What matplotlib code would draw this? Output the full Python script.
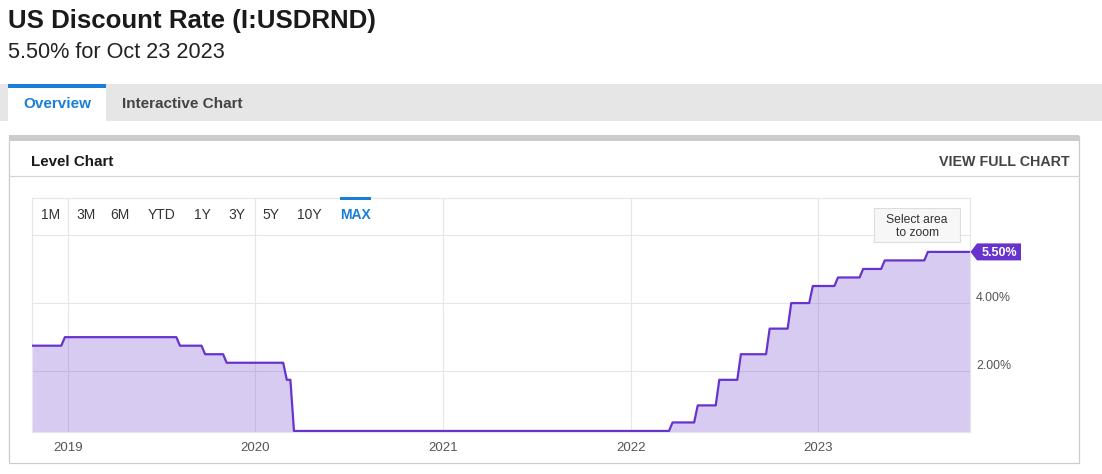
import matplotlib
matplotlib.use("Agg")
import matplotlib.pyplot as plt
from matplotlib.patches import Rectangle, Polygon
import pandas as pd

plt.rcParams["font.family"] = ["Liberation Sans", "DejaVu Sans"]

# weekly-ish observations around each rate change (%)
rate_dates = [
    "2018-10-23", "2018-12-19", "2018-12-26", "2019-07-31", "2019-08-07",
    "2019-09-18", "2019-09-25", "2019-10-30", "2019-11-06", "2020-02-24",
    "2020-03-02", "2020-03-09", "2020-03-16", "2022-03-16", "2022-03-23",
    "2022-05-04", "2022-05-11", "2022-06-15", "2022-06-22", "2022-07-27",
    "2022-08-03", "2022-09-21", "2022-09-28", "2022-11-02", "2022-11-09",
    "2022-12-14", "2022-12-21", "2023-02-01", "2023-02-08", "2023-03-22",
    "2023-03-29", "2023-05-03", "2023-05-10", "2023-07-26", "2023-08-02",
    "2023-10-23",
]
rate_values = [
    2.75, 2.75, 3.00, 3.00, 2.75,
    2.75, 2.50, 2.50, 2.25, 2.25,
    1.75, 1.75, 0.25, 0.25, 0.50,
    0.50, 1.00, 1.00, 1.75, 1.75,
    2.50, 2.50, 3.25, 3.25, 4.00,
    4.00, 4.50, 4.50, 4.75, 4.75,
    5.00, 5.00, 5.25, 5.25, 5.50,
    5.50,
]
year_ticks = ["2019-01-01", "2020-01-01", "2021-01-01", "2022-01-01", "2023-01-01"]
year_labels = ["2019", "2020", "2021", "2022", "2023"]
y_ticks = [2.0, 4.0, 6.0]
y_labels = ["2.00%", "4.00%", ""]
range_buttons = ["1M", "3M", "6M", "YTD", "1Y", "3Y", "5Y", "10Y", "MAX"]
range_x = [40.5, 76.5, 110, 148, 194, 228, 262, 297.5, 340.5]

W, H = 1102, 474
LINE = "#6633cc"
GRID = "#e6e6e6"
Y0, Y1 = 0.22, 7.08

fig = plt.figure(figsize=(W / 100, H / 100), dpi=100)

# page background layer in pixel coordinates
bg = fig.add_axes([0, 0, 1, 1], zorder=0)
bg.set_xlim(0, W)
bg.set_ylim(H, 0)
bg.axis("off")

bg.text(8, 27.5, "US Discount Rate (I:USDRND)", fontsize=18.6, fontweight="bold",
        color="#1a1a1a", va="baseline")
bg.text(8, 58, "5.50% for Oct 23 2023", fontsize=15.6, color="#222222", va="baseline")

# tab strip
bg.add_patch(Rectangle((0, 84), W, 37, facecolor="#e6e6e6", edgecolor="none"))
bg.add_patch(Rectangle((8, 84), 98, 37, facecolor="white", edgecolor="none"))
bg.add_patch(Rectangle((8, 84), 98, 4, facecolor="#1a7fd4", edgecolor="none"))
bg.text(23, 108, "Overview", fontsize=11, fontweight="bold", color="#1a7fd4",
        va="baseline")
bg.text(121.5, 108, "Interactive Chart", fontsize=11, fontweight="bold",
        color="#444444", va="baseline")

# card
bg.add_patch(Rectangle((8.5, 136), 1070.5, 327, facecolor="white",
                       edgecolor="#cccccc", lw=0.9))
bg.add_patch(Rectangle((8.5, 135), 1070.5, 6, facecolor="#cccccc", edgecolor="none"))
bg.plot([8.5, 1079], [176, 176], color="#d4d4d4", lw=0.9)
bg.text(31, 165.5, "Level Chart", fontsize=10.9, fontweight="bold",
        color="#1a1a1a", va="baseline")
bg.text(1070, 165.5, "VIEW FULL CHART", fontsize=10.3, fontweight="bold",
        color="#444444", va="baseline", ha="right")

# chart
x_left, x_right, y_top, y_bot = 32, 970, 198, 432
ax = fig.add_axes([x_left / W, 1 - y_bot / H, (x_right - x_left) / W,
                   (y_bot - y_top) / H], zorder=1)
dates = pd.to_datetime(rate_dates)
ax.fill_between(dates, rate_values, -1, color=LINE, alpha=0.25, lw=0, zorder=2)
ax.plot(dates, rate_values, color=LINE, lw=1.6, zorder=3, solid_joinstyle="round")
ax.set_xlim(pd.Timestamp("2018-10-23"), pd.Timestamp("2023-10-23"))
ax.set_ylim(Y0, Y1)
ax.set_xticks(pd.to_datetime(year_ticks))
ax.set_xticklabels(year_labels)
ax.set_yticks(y_ticks)
ax.set_yticklabels([])
ax.grid(True, color=GRID, lw=0.8, zorder=1)
ax.set_axisbelow(True)
ax.tick_params(axis="x", length=0, pad=7.5, labelsize=9.5, labelcolor="#555555")
ax.tick_params(axis="y", length=0)
for s in ax.spines.values():
    s.set_color(GRID)
    s.set_linewidth(0.8)

# overlay layer (pixel coords) for labels on top of the chart
ov = fig.add_axes([0, 0, 1, 1], zorder=3)
ov.set_xlim(0, W)
ov.set_ylim(H, 0)
ov.axis("off")
ov.patch.set_alpha(0)

for lab, x in zip(range_buttons, range_x):
    if lab == "MAX":
        ov.text(x, 218.5, lab, fontsize=10, fontweight="bold", color="#1a7fd4",
                va="baseline")
        ov.add_patch(Rectangle((340, 197), 31, 3, facecolor="#1a7fd4", edgecolor="none"))
    else:
        ov.text(x, 218.5, lab, fontsize=10, color="#333333", va="baseline")

for val, lab in zip(y_ticks, y_labels):
    if lab:
        ypix = y_bot - (val - Y0) / (Y1 - Y0) * (y_bot - y_top)
        ov.text(976, ypix - 2.5, lab, fontsize=8.9, color="#555555", va="baseline")

ov.add_patch(Rectangle((874, 208), 86, 34, facecolor="#f7f7f7", edgecolor="#dddddd",
                       lw=0.8))
ov.text(917, 223, "Select area", fontsize=8.7, color="#333333", ha="center",
        va="baseline")
ov.text(917, 236, "to zoom", fontsize=8.7, color="#333333", ha="center",
        va="baseline")

last = rate_values[-1]
ylast = y_bot - (last - Y0) / (Y1 - Y0) * (y_bot - y_top)
ov.add_patch(Polygon([(970.5, ylast), (977, ylast - 8.5), (1021, ylast - 8.5),
                      (1021, ylast + 8.5), (977, ylast + 8.5)],
                     closed=True, facecolor=LINE, edgecolor="none"))
ov.text(999.5, ylast + 4.3, f"{last:.2f}%", fontsize=9, fontweight="bold",
        color="white", ha="center", va="baseline")

fig.savefig("out.png", dpi=100)
